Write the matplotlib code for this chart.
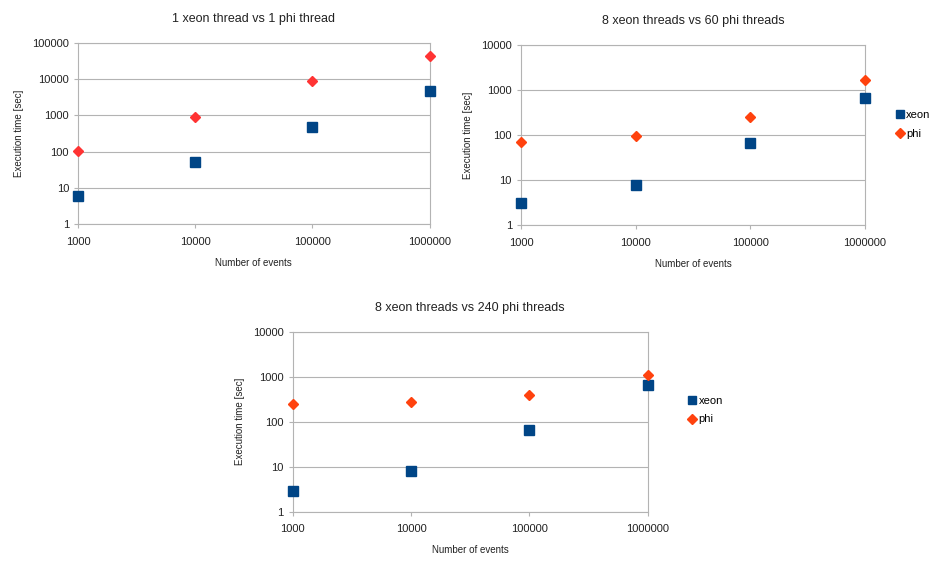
import matplotlib
matplotlib.use('Agg')
import matplotlib.pyplot as plt
from matplotlib.ticker import FixedLocator, NullLocator, FuncFormatter

plt.rcParams['font.family'] = ['Liberation Sans', 'DejaVu Sans']

# number of events on the x axis
events = [1000, 10000, 100000, 1000000]

# execution times
xeon_1 = [6, 52, 480, 4800]
phi_1 = [105, 900, 9000, 44000]

xeon_60 = [3.1, 8, 67, 675]
phi_60 = [71, 97, 255, 1660]

xeon_240 = [2.9, 8, 67, 650]
phi_240 = [250, 278, 390, 1090]

titles = ['1 xeon thread vs 1 phi thread',
          '8 xeon threads vs 60 phi threads',
          '8 xeon threads vs 240 phi threads']

XEON = '#004586'
PHI_RED = '#ff3333'
PHI_ORANGE = '#ff420e'
GRID = '#b3b3b3'


def panel(fig, rect, xeon, phi, title, ymax, phi_color, legend, leg_pos=None):
    ax = fig.add_axes(rect)
    ax.set_xscale('log')
    ax.set_yscale('log')
    ax.set_xlim(1000, 1000000)
    ax.set_ylim(1, ymax)

    ax.plot(events, xeon, 's', color=XEON, ms=7, clip_on=False, zorder=3, label='xeon')
    ax.plot(events, phi, 'D', color=phi_color, ms=5.5, clip_on=False, zorder=4, label='phi')

    yt = [10 ** k for k in range(0, len(str(ymax)))]
    ax.yaxis.set_major_locator(FixedLocator(yt))
    ax.xaxis.set_major_locator(FixedLocator(events))
    ax.xaxis.set_minor_locator(NullLocator())
    ax.yaxis.set_minor_locator(NullLocator())
    fmt = FuncFormatter(lambda v, p: '%d' % round(v))
    ax.xaxis.set_major_formatter(fmt)
    ax.yaxis.set_major_formatter(fmt)

    ax.grid(axis='y', color=GRID, linewidth=0.8)
    ax.set_axisbelow(True)
    for s in ax.spines.values():
        s.set_color(GRID)
        s.set_linewidth(0.8)
    ax.tick_params(axis='both', colors=GRID, labelcolor='#222222', labelsize=8,
                   length=3, width=0.8)
    ax.tick_params(axis='x', pad=6)

    ax.set_title(title, fontsize=9, color='#222222', pad=15)
    ax.set_xlabel('Number of events', fontsize=7, color='#222222', labelpad=8)
    ax.set_ylabel('Execution time [sec]', fontsize=7, color='#222222', labelpad=6)

    if legend:
        ax.legend(loc='center left', bbox_to_anchor=leg_pos, frameon=False,
                  fontsize=8, handlelength=0.6, handletextpad=0.3,
                  borderpad=0, labelspacing=0.8, markerscale=0.9)
    return ax


fig = plt.figure(figsize=(9.33, 5.63), dpi=100)

panel(fig, [0.0836, 0.602, 0.377, 0.3215], xeon_1, phi_1, titles[0], 100000,
      PHI_RED, False)
panel(fig, [0.5584, 0.600, 0.3687, 0.3197], xeon_60, phi_60, titles[1], 10000,
      PHI_ORANGE, True, (1.075, 0.56))
panel(fig, [0.3137, 0.0911, 0.3805, 0.3197], xeon_240, phi_240, titles[2], 10000,
      PHI_ORANGE, True, (1.1, 0.565))

fig.savefig('out.png', dpi=100)
